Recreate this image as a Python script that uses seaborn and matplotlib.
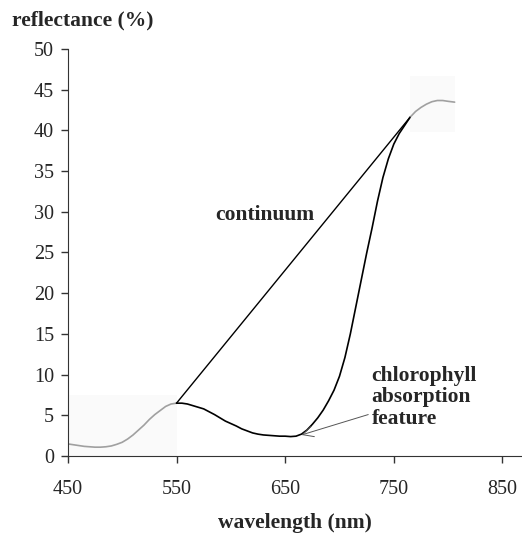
import matplotlib
matplotlib.use("Agg")
import matplotlib.pyplot as plt
import seaborn as sns
import pandas as pd

# spectrum pieces (wavelength nm, reflectance %)
wl_blue = [450, 455, 460, 465, 470, 475, 480, 485, 490, 495, 500,
           505, 510, 515, 520, 525, 530, 535, 540, 545, 550]
refl_blue = [1.5, 1.4, 1.3, 1.2, 1.15, 1.1, 1.1, 1.15, 1.25, 1.45, 1.7,
             2.1, 2.6, 3.2, 3.8, 4.5, 5.1, 5.6, 6.1, 6.4, 6.5]

wl_feature = [550, 555, 560, 565, 570, 575, 580, 585, 590, 595, 600,
              605, 610, 615, 620, 625, 630, 635, 640, 645, 650, 655,
              660, 665, 670, 675, 680, 685, 690, 695, 700, 705, 710,
              715, 720, 725, 730, 735, 740, 745, 750, 755, 760, 765]
refl_feature = [6.5, 6.5, 6.4, 6.2, 6.0, 5.8, 5.45, 5.1, 4.7, 4.3, 4.0,
                3.7, 3.35, 3.1, 2.85, 2.7, 2.6, 2.55, 2.5, 2.45, 2.45, 2.4,
                2.45, 2.7, 3.2, 3.9, 4.7, 5.65, 6.8, 8.1, 9.8, 12.1, 15.0,
                18.3, 21.6, 24.9, 28.0, 31.3, 34.2, 36.5, 38.3, 39.6, 40.6, 41.6]

wl_nir = [765, 770, 775, 780, 785, 790, 795, 800, 806]
refl_nir = [41.6, 42.3, 42.8, 43.2, 43.5, 43.65, 43.65, 43.55, 43.45]

xticks = [450, 550, 650, 750, 850]
yticks = [0, 5, 10, 15, 20, 25, 30, 35, 40, 45, 50]

sns.set_style("ticks")
plt.rcParams["font.family"] = ["Liberation Serif", "DejaVu Serif"]

fig = plt.figure(figsize=(5.22, 5.36), dpi=100)
ax = fig.add_axes([0.130, 0.149, 0.870, 0.760])

# faint boxes behind the grey parts of the spectrum
ax.fill_between(wl_blue, 0, 7.5, color="#fafafa", lw=0, zorder=0)
ax.fill_between(wl_nir, 39.8, 46.6, color="#fafafa", lw=0, zorder=0)

blue = pd.DataFrame({"wl": wl_blue, "r": refl_blue})
feat = pd.DataFrame({"wl": wl_feature, "r": refl_feature})
nir = pd.DataFrame({"wl": wl_nir, "r": refl_nir})

sns.lineplot(data=blue, x="wl", y="r", ax=ax, color="#a0a0a0", lw=1.2)
sns.lineplot(data=feat, x="wl", y="r", ax=ax, color="black", lw=1.2)
sns.lineplot(data=nir, x="wl", y="r", ax=ax, color="#a0a0a0", lw=1.2)

# continuum hull between the two shoulders
cont = pd.DataFrame({"wl": [wl_feature[0], wl_feature[-1]],
                     "r": [refl_feature[0], refl_feature[-1]]})
sns.lineplot(data=cont, x="wl", y="r", ax=ax, color="black", lw=1.0)

ax.text(631, 29.6, "continuum", fontsize=15.5, fontweight="bold",
        ha="center", va="center")
ax.annotate("chlorophyll\nabsorption\nfeature", xy=(665, 2.6),
            xytext=(729.5, 7.2), fontsize=15.5, fontweight="bold",
            ha="left", va="center", linespacing=1.1,
            arrowprops=dict(arrowstyle="->,head_length=0.5,head_width=0.25",
                            color="#555555", lw=0.7,
                            shrinkA=0, shrinkB=0))

ax.set_xlim(450, 868)
ax.set_ylim(0, 50)
ax.set_xticks(xticks)
ax.set_yticks(yticks)
ax.tick_params(labelsize=14.5, length=5, width=1, color="#333333")
ax.tick_params(axis="x", pad=12)
ax.tick_params(axis="y", pad=5)
for side in ["left", "bottom"]:
    ax.spines[side].set_color("#333333")
sns.despine(ax=ax)

ax.set_xlabel("wavelength (nm)", fontsize=15.5, fontweight="bold", labelpad=10)
ax.set_ylabel("")
fig.text(0.023, 0.962, "reflectance (%)", fontsize=15.5, fontweight="bold",
         ha="left", va="center")

fig.savefig("out.png", dpi=100)
